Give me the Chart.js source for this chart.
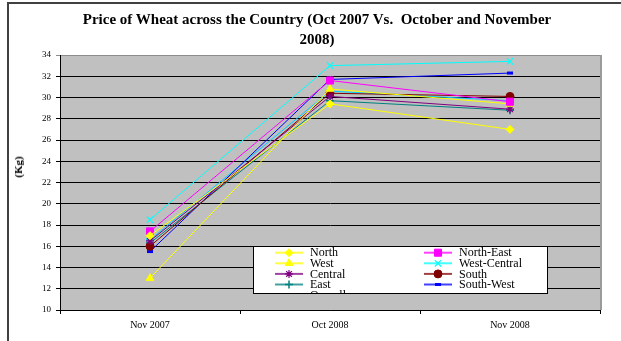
<!DOCTYPE html>
<html><head><meta charset="utf-8">
<script src="https://cdn.jsdelivr.net/npm/chart.js@4/dist/chart.umd.min.js"></script>
<style>
html,body{margin:0;padding:0;background:#fff;overflow:hidden;}
body{width:621px;height:341px;position:relative;font-family:"Liberation Serif","Times New Roman",serif;color:#000;}
#frame{position:absolute;left:7px;top:2px;width:640px;height:360px;border-left:2px solid #404040;border-top:2px solid #404040;}
#wrap{position:absolute;left:9px;top:4px;width:612px;height:337px;}
#title{position:absolute;left:17px;width:600px;top:10px;text-align:center;font-weight:bold;font-size:15px;line-height:19.5px;white-space:pre;}
#ytitle{position:absolute;left:18px;top:167px;transform:translate(-50%,-50%) rotate(-90deg);font-weight:bold;font-size:11px;white-space:nowrap;}
</style></head><body>
<div id="frame"></div>
<div id="wrap"><canvas id="c"></canvas></div>
<div id="title"></div>
<div id="ytitle"></div>
<script>
// Wheat price (per Kg) by region
const chartTitle = ['Price of Wheat across the Country (Oct 2007 Vs.  October and November', '2008)'];
const yAxisTitle = '(Kg)';
const categories = ['Nov 2007', 'Oct 2008', 'Nov 2008'];
const yTicks = [10, 12, 14, 16, 18, 20, 22, 24, 26, 28, 30, 32, 34];

const north        = [17.0, 29.4, 27.0];
const northEast    = [17.4, 31.6, 29.6];
const west         = [13.0, 30.8, 29.4];
const westCentral  = [18.5, 33.0, 33.4];
const central      = [16.5, 30.1, 28.9];
const south        = [16.0, 30.4, 30.1];
const east         = [16.3, 29.7, 28.8];
const southWest    = [15.5, 31.7, 32.3];
const overall      = [16.6, 30.6, 29.7];

const seriesNames = ['North', 'North-East', 'West', 'West-Central', 'Central', 'South', 'East', 'South-West', 'Overall'];
const seriesValues = [north, northEast, west, westCentral, central, south, east, southWest, overall];

document.getElementById('title').textContent = chartTitle.join('\n');
document.getElementById('ytitle').textContent = yAxisTitle;

const styles = [
  { color: '#FFFF00', point: 'rectRot',  radius: 4,   bw: 1 },
  { color: '#FF00FF', point: 'rect',     radius: 5,   bw: 1 },
  { color: '#FFFF00', point: 'triangle', radius: 4.5, bw: 1 },
  { color: '#00FFFF', point: 'crossRot', radius: 4.5, bw: 1.2 },
  { color: '#800080', point: 'star',     radius: 4,   bw: 1.2 },
  { color: '#800000', point: 'circle',   radius: 4,   bw: 1 },
  { color: '#008080', point: 'cross',    radius: 4,   bw: 1.5 },
  { color: '#0000FF', point: 'line',     radius: 3,   bw: 3 },
  { color: '#00CCFF', point: 'line',     radius: 4,   bw: 3 }
];

const datasets = seriesNames.map((name, i) => ({
  label: name,
  data: seriesValues[i],
  borderColor: styles[i].color,
  backgroundColor: styles[i].color,
  borderWidth: 1,
  pointStyle: styles[i].point,
  pointRadius: styles[i].radius,
  pointBorderWidth: styles[i].bw,
  pointBorderColor: styles[i].color,
  pointBackgroundColor: styles[i].color,
  tension: 0
}));

// grey plot background with darker right edge
const plotBackground = {
  id: 'plotBackground',
  beforeDraw(chart) {
    const { ctx, chartArea: a } = chart;
    ctx.save();
    ctx.fillStyle = '#C0C0C0';
    ctx.fillRect(a.left, a.top, a.right - a.left, a.bottom - a.top);
    ctx.fillStyle = '#9A9A9A';
    ctx.fillRect(a.right, a.top, 2, a.bottom - a.top);
    ctx.restore();
  }
};

// two-column boxed legend inside the plot
const boxedLegend = {
  id: 'boxedLegend',
  afterDraw(chart) {
    const { ctx } = chart;
    const box = { x: 244, y: 242, w: 295, h: 48 };
    ctx.save();
    ctx.fillStyle = '#FFFFFF';
    ctx.fillRect(box.x, box.y, box.w, box.h);
    ctx.beginPath();
    ctx.rect(box.x + 1, box.y + 1, box.w - 2, box.h - 2);
    ctx.clip();
    const cols = [{ lx: 266, tx: 301 }, { lx: 415, tx: 450 }];
    const rowH = 10.6, y0 = 248.7;
    ctx.font = '12px "Liberation Serif", "Times New Roman", serif';
    ctx.textBaseline = 'middle';
    ctx.textAlign = 'left';
    chart.data.datasets.forEach((ds, i) => {
      const col = cols[i % 2];
      const y = y0 + Math.floor(i / 2) * rowH;
      ctx.strokeStyle = ds.borderColor;
      ctx.lineWidth = 2;
      ctx.globalAlpha = 0.75;
      ctx.beginPath();
      ctx.moveTo(col.lx, y);
      ctx.lineTo(col.lx + 28, y);
      ctx.stroke();
      ctx.globalAlpha = 1;
      ctx.fillStyle = ds.pointBackgroundColor;
      ctx.strokeStyle = ds.pointBorderColor;
      ctx.lineWidth = ds.pointBorderWidth;
      Chart.helpers.drawPoint(ctx, { pointStyle: ds.pointStyle, radius: ds.pointRadius, rotation: 0, borderWidth: ds.pointBorderWidth }, col.lx + 14, y);
      ctx.fillStyle = '#000000';
      ctx.fillText(ds.label, col.tx, y + 0.5);
    });
    ctx.restore();
    ctx.save();
    ctx.strokeStyle = '#000000';
    ctx.lineWidth = 1;
    ctx.strokeRect(box.x + 0.5, box.y + 0.5, box.w - 1, box.h - 1);
    ctx.restore();
  }
};

new Chart(document.getElementById('c'), {
  type: 'line',
  data: { labels: categories, datasets },
  plugins: [plotBackground, boxedLegend],
  options: {
    responsive: true,
    maintainAspectRatio: false,
    animation: false,
    layout: { padding: { left: 0, right: 21, top: 51, bottom: 0 } },
    plugins: {
      legend: { display: false },
      tooltip: { enabled: false },
      title: { display: false }
    },
    scales: {
      x: {
        offset: true,
        afterFit(s) { s.height = 31; },
        grid: { offset: true, drawOnChartArea: false, drawTicks: true, tickLength: 4, color: '#000' },
        border: { color: '#000', width: 1 },
        ticks: { color: '#000', padding: 5, maxRotation: 0, font: { family: '"Liberation Serif", "Times New Roman", serif', size: 10 } }
      },
      y: {
        min: 10,
        max: 34,
        afterFit(s) { s.width = 51; },
        afterBuildTicks(s) { s.ticks = yTicks.map(v => ({ value: v })); },
        grid: {
          color: c => (c.tick && c.tick.value === 34 ? '#8C8C8C' : '#000'),
          lineWidth: 1,
          tickLength: 4,
          drawTicks: true
        },
        border: { color: '#000', width: 1 },
        ticks: { color: '#000', padding: 5, font: { family: '"Liberation Serif", "Times New Roman", serif', size: 9 } }
      }
    }
  }
});
</script>
</body></html>
